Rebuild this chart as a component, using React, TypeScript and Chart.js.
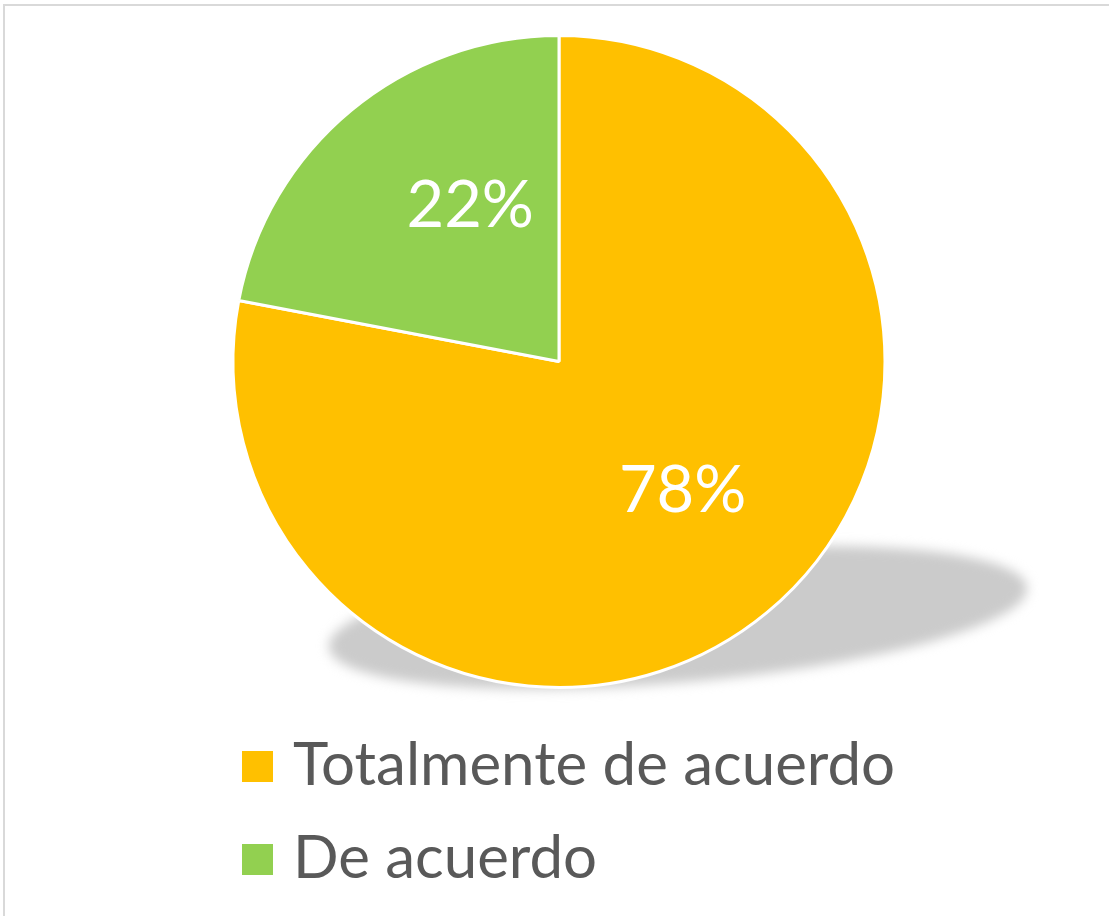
import React, { useEffect, useRef } from "react";
import { Chart, registerables } from "chart.js";

Chart.register(...registerables);

const categories = ["Totalmente de acuerdo", "De acuerdo"];
const values = [78, 22];
const colors = ["#FFC000", "#92D050"];

const FONT = "Lato, 'Open Sans', sans-serif";

const shadowPlugin = {
  id: "pieShadow",
  beforeDatasetsDraw(chart: any) {
    const arc = chart.getDatasetMeta(0).data[0];
    if (!arc) return;
    const { x, y, outerRadius: r } = arc;
    const ctx = chart.ctx;
    ctx.save();
    ctx.filter = "blur(6px)";
    ctx.fillStyle = "#cbcbcb";
    ctx.beginPath();
    ctx.ellipse(x + 0.365 * r, y + 0.785 * r, 1.075 * r, 0.2 * r, (-4.9 * Math.PI) / 180, 0, Math.PI * 2);
    ctx.fill();
    ctx.restore();
  },
};

const labelTweaks = [
  { da: -4.5, f: 0.545 },
  { da: 10.2, f: 0.555 },
];

const labelPlugin = {
  id: "pieLabels",
  afterDatasetsDraw(chart: any) {
    const ctx = chart.ctx;
    const meta = chart.getDatasetMeta(0);
    const data = chart.data.datasets[0].data as number[];
    const total = data.reduce((a, b) => a + b, 0);
    const size = 65;
    ctx.save();
    ctx.font = `${size}px ${FONT}`;
    ctx.fillStyle = "#ffffff";
    ctx.textAlign = "center";
    ctx.textBaseline = "alphabetic";
    meta.data.forEach((arc: any, i: number) => {
      const mid = (arc.startAngle + arc.endAngle) / 2 + (labelTweaks[i].da * Math.PI) / 180;
      const d = arc.outerRadius * labelTweaks[i].f;
      const cx = arc.x + Math.cos(mid) * d;
      const cy = arc.y + Math.sin(mid) * d;
      const txt = Math.round((data[i] / total) * 100) + "%";
      ctx.fillText(txt, cx, cy + size * 0.36);
    });
    ctx.restore();
  },
};

const legendPlugin = {
  id: "customLegend",
  afterDraw(chart: any) {
    const ctx = chart.ctx;
    const labels = chart.data.labels as string[];
    const bg = chart.data.datasets[0].backgroundColor as string[];
    const top = chart.chartArea.bottom + 62;
    const rowH = 93;
    const boxX = 242;
    const box = 31;
    const size = 60;
    ctx.save();
    ctx.font = `${size}px ${FONT}`;
    ctx.textAlign = "left";
    ctx.textBaseline = "alphabetic";
    labels.forEach((lab, i) => {
      const y = top + i * rowH;
      ctx.fillStyle = bg[i];
      ctx.fillRect(boxX, y, box, box);
      ctx.fillStyle = "#595959";
      ctx.fillText(lab, boxX + 51, y + 34);
    });
    ctx.restore();
  },
};

export default function App() {
  const ref = useRef<HTMLCanvasElement>(null);
  useEffect(() => {
    if (!ref.current) return;
    const chart = new Chart(ref.current, {
      type: "pie",
      data: {
        labels: categories,
        datasets: [
          {
            data: values,
            backgroundColor: colors,
            borderColor: "#ffffff",
            borderWidth: 3,
          },
        ],
      },
      options: {
        animation: false,
        responsive: false,
        layout: { padding: { top: 34, bottom: 227, left: 109, right: 100 } },
        plugins: {
          legend: { display: false },
          tooltip: { enabled: false },
        },
      },
      plugins: [shadowPlugin, labelPlugin, legendPlugin],
    });
    return () => chart.destroy();
  }, []);
  return (
    <div style={{ position: "absolute", left: 0, top: 0, width: 1109, height: 916, background: "#fff", overflow: "hidden" }}>
      <div
        style={{
          position: "absolute",
          left: 3,
          top: 4,
          width: 1200,
          height: 1000,
          border: "2px solid #d9d9d9",
          boxSizing: "border-box",
        }}
      />
      <canvas ref={ref} width={1109} height={916} style={{ position: "absolute", left: 0, top: 0 }} />
    </div>
  );
}
